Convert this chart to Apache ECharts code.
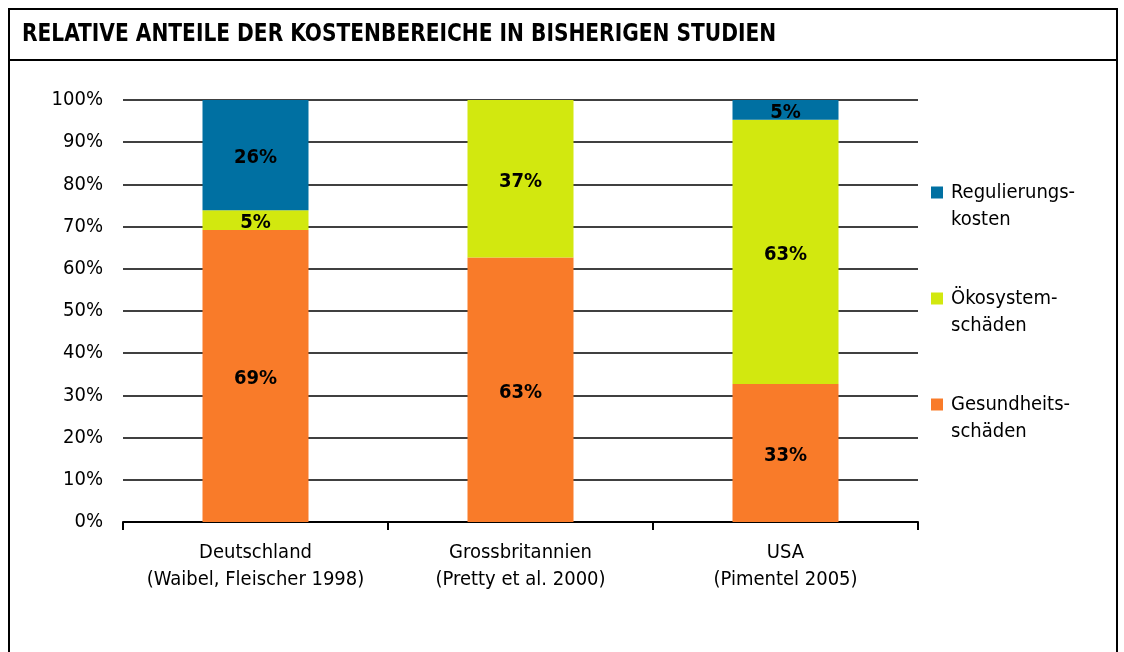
<!DOCTYPE html>
<html><head><meta charset="utf-8">
<script src="https://cdn.jsdelivr.net/npm/echarts@6/dist/echarts.min.js"></script>
<style>html,body{margin:0;padding:0;background:#fff}#c{width:1124px;height:652px}</style>
</head><body><div id="c"></div>
<script>
const FONT = "'Liberation Sans Narrow','DejaVu Sans Condensed','Noto Sans',sans-serif";
const categories = ['Deutschland\n(Waibel, Fleischer 1998)', 'Grossbritannien\n(Pretty et al. 2000)', 'USA\n(Pimentel 2005)'];
const gesundheit = [69.2, 62.7, 32.7];
const oekosystem = [4.7, 37.3, 62.6];
const regulierung = [26.1, 0, 4.7];
const seriesNames = ['Gesundheits-\nschäden', 'Ökosystem-\nschäden', 'Regulierungs-\nkosten'];
const colors = ['#F97B29', '#D2E80F', '#0070A2'];
const title = 'RELATIVE ANTEILE DER KOSTENBEREICHE IN BISHERIGEN STUDIEN';

const chart = echarts.init(document.getElementById('c'), null, {renderer: 'canvas'});
const lab = {show: true, position: 'inside', offset: [0, 3], color: '#000', fontWeight: 'bold', fontSize: 20, fontFamily: FONT,
  formatter: p => p.value > 0 ? Math.round(p.value) + '%' : ''};
const mk = (name, data, color) => ({name, type: 'bar', stack: 's', data, barWidth: '40%',
  itemStyle: {color}, label: lab, emphasis: {disabled: true}});
chart.setOption({
  animation: false,
  textStyle: {fontFamily: FONT},
  graphic: [
    {type: 'rect', shape: {x: 9, y: 9, width: 1108, height: 660}, style: {fill: 'none', stroke: '#000', lineWidth: 2}, silent: true},
    {type: 'line', shape: {x1: 9, y1: 60, x2: 1117, y2: 60}, style: {stroke: '#000', lineWidth: 2}, silent: true},
    {type: 'text', left: 22, top: 23, scaleX: 0.935, style: {text: title, font: 'bold 24px ' + FONT, fill: '#000'}}
  ],
  grid: {left: 123, right: 206, top: 100, bottom: 130, containLabel: false},
  legend: {
    orient: 'vertical', left: 926, top: 147,
    data: [seriesNames[2], seriesNames[1], seriesNames[0]],
    formatter: n => ' \n' + n,
    itemWidth: 12, itemHeight: 12, itemGap: 25, icon: 'rect',
    textStyle: {fontSize: 20, lineHeight: 27, color: '#000', fontFamily: FONT, padding: [0, 0, 0, 3]},
    selectedMode: false
  },
  xAxis: {type: 'category', data: categories, boundaryGap: true,
    axisLine: {lineStyle: {color: '#000', width: 2}},
    axisTick: {show: true, alignWithLabel: false, interval: 0, length: 8, lineStyle: {color: '#000', width: 2}},
    axisLabel: {color: '#000', fontSize: 20, lineHeight: 27, margin: 17, interval: 0, fontFamily: FONT}},
  yAxis: {type: 'value', min: 0, max: 100, interval: 10,
    axisLine: {show: false}, axisTick: {show: false},
    axisLabel: {color: '#000', fontSize: 20, margin: 20, padding: [4, 0, 0, 0], formatter: '{value}%', fontFamily: FONT},
    splitLine: {lineStyle: {color: '#000', width: 1.5}}},
  series: [mk(seriesNames[0], gesundheit, colors[0]), mk(seriesNames[1], oekosystem, colors[1]), mk(seriesNames[2], regulierung, colors[2])]
});
</script></body></html>
